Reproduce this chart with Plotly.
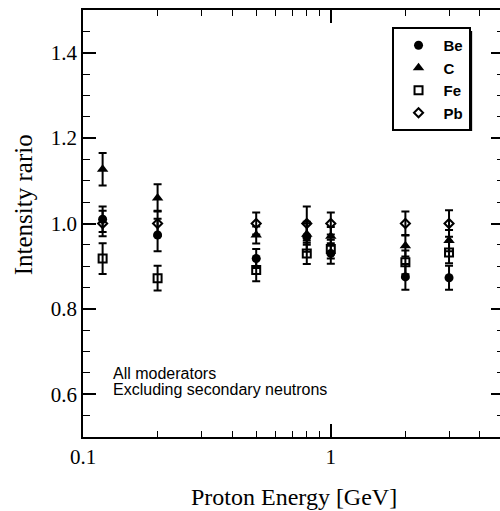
import math
import plotly.graph_objects as go

# Proton energies (GeV) at which the ratios were measured
energy = [0.12, 0.2, 0.5, 0.8, 1.0, 2.0, 3.0]

# Intensity ratio per moderator material, with 1-sigma errors
be_ratio = [1.010, 0.973, 0.918, 0.969, 0.930, 0.875, 0.873]
be_err = [0.030, 0.038, 0.022, 0.035, 0.024, 0.030, 0.028]

c_ratio = [1.127, 1.060, 0.973, 0.975, 0.970, 0.948, 0.960]
c_err = [0.038, 0.032, 0.020, 0.025, 0.022, 0.025, 0.025]

fe_ratio = [0.918, 0.872, 0.891, 0.930, 0.940, 0.909, 0.932]
fe_err = [0.036, 0.029, 0.026, 0.025, 0.022, 0.028, 0.025]

pb_ratio = [1.000, 1.000, 1.000, 1.000, 1.000, 1.000, 1.000]
pb_err = [0.030, 0.030, 0.026, 0.040, 0.026, 0.028, 0.031]

materials = ["Be", "C", "Fe", "Pb"]
y_ticks = [0.6, 0.8, 1.0, 1.2, 1.4]
x_ticks = [0.1, 1]
x_minor = [0.2, 0.3, 0.4, 0.5, 0.6, 0.7, 0.8, 0.9, 2, 3, 4]

serif = "Liberation Serif, Times New Roman, serif"
sans = "Liberation Sans, Arial, sans-serif"

series = [
    (be_ratio, be_err, dict(symbol="circle", size=9, color="black")),
    (c_ratio, c_err, dict(symbol="triangle-up", size=10, color="black")),
    (fe_ratio, fe_err, dict(symbol="square-open", size=8, color="black",
                            line=dict(width=2, color="black"))),
    (pb_ratio, pb_err, dict(symbol="diamond-open", size=7, color="black",
                            line=dict(width=2, color="black"))),
]

fig = go.Figure()
for name, (vals, errs, mk) in zip(materials, series):
    fig.add_trace(go.Scatter(
        x=energy, y=vals, name=name, mode="markers",
        marker=mk,
        error_y=dict(type="data", array=errs, visible=True,
                     color="black", thickness=2, width=4),
    ))

W, H = 506, 511
ML, MR, MT, MB = 83, 0, 10, 74
pw, ph = W - ML - MR, H - MT - MB


def px_x(p):
    return (p - ML) / pw


def px_y(p):
    return (H - MB - p) / ph


fig.update_layout(
    width=W, height=H,
    margin=dict(l=ML, r=MR, t=MT, b=MB),
    paper_bgcolor="white", plot_bgcolor="white",
    showlegend=True,
    legend=dict(
        x=px_x(393), y=px_y(27), xanchor="left", yanchor="top",
        bgcolor="white", bordercolor="black", borderwidth=2,
        font=dict(family=sans, size=15, color="black", weight="bold"),
        itemwidth=40, tracegroupgap=0,
    ),
    xaxis=dict(
        type="log", range=[-1, math.log10(5)],
        tickmode="array", tickvals=x_ticks, ticktext=["0.1", "1"],
        ticks="inside", ticklen=13, tickwidth=1.5, tickcolor="black",
        showline=True, linecolor="black", linewidth=1.8, mirror="ticks",
        showgrid=False, zeroline=False,
        tickfont=dict(family=serif, size=21, color="black"),
        minor=dict(tickmode="array", tickvals=x_minor, ticks="inside",
                   ticklen=6, tickwidth=1.2, tickcolor="black", showgrid=False),
    ),
    yaxis=dict(
        range=[0.5, 1.5],
        tickmode="array", tickvals=y_ticks,
        ticktext=[f"{v:.1f}" for v in y_ticks],
        ticks="inside", ticklen=13, tickwidth=1.5, tickcolor="black",
        showline=True, linecolor="black", linewidth=1.8, mirror="ticks",
        showgrid=False, zeroline=False,
        tickfont=dict(family=serif, size=21, color="black"),
        minor=dict(dtick=0.05, tick0=0.5, ticks="inside", ticklen=7,
                   tickwidth=1.2, tickcolor="black", showgrid=False),
    ),
    shapes=[
        # drop shadow behind the legend box
        dict(type="rect", xref="paper", yref="paper",
             x0=px_x(397), x1=px_x(474), y0=px_y(131), y1=px_y(31),
             fillcolor="black", line=dict(width=0), layer="above"),
    ],
    annotations=[
        dict(text="Proton Energy [GeV]", xref="paper", yref="paper",
             x=0.5, y=px_y(497), xanchor="center", yanchor="middle",
             showarrow=False, font=dict(family=serif, size=24, color="black")),
        dict(text="Intensity rario", xref="paper", yref="paper",
             x=px_x(24), y=px_y(205), xanchor="center", yanchor="middle",
             textangle=-90, showarrow=False,
             font=dict(family=serif, size=25, color="black")),
        dict(text="All moderators", xref="paper", yref="paper",
             x=px_x(111), y=px_y(373), xanchor="left", yanchor="middle",
             showarrow=False, font=dict(family=sans, size=16, color="black")),
        dict(text="Excluding secondary neutrons", xref="paper", yref="paper",
             x=px_x(111), y=px_y(389), xanchor="left", yanchor="middle",
             showarrow=False, font=dict(family=sans, size=16, color="black")),
    ],
)

fig.write_html(
    "out.html",
    config={"displayModeBar": False},
    post_script=(
        "document.documentElement.style.overflow='hidden';"
        "document.body.style.overflow='hidden';"
        "document.body.style.margin='0';"
    ),
)
